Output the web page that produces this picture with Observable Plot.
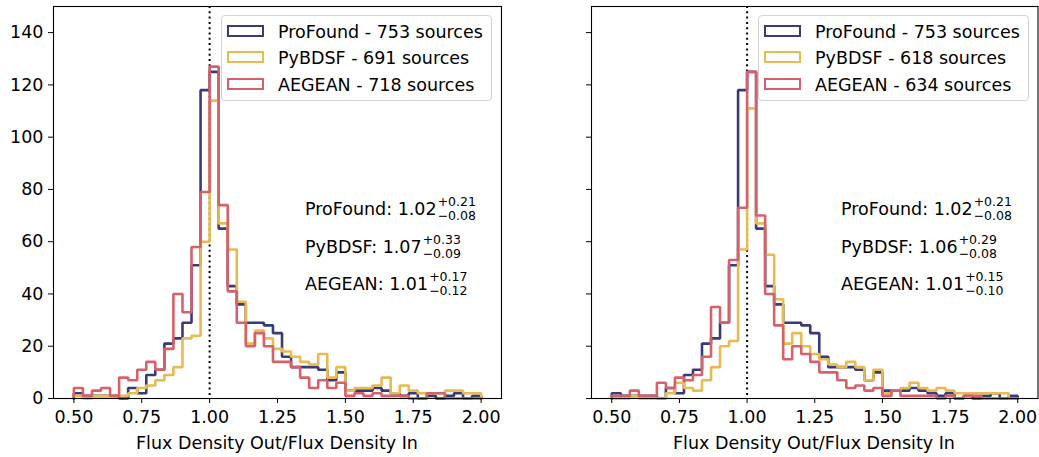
<!DOCTYPE html>
<html>
<head>
<meta charset="utf-8">
<script src="https://cdn.jsdelivr.net/npm/d3@7"></script>
<script src="https://cdn.jsdelivr.net/npm/@observablehq/plot@0.6"></script>
<style>
  html, body { margin: 0; padding: 0; background: #fff; }
  body { width: 1039px; height: 457px; position: relative; overflow: hidden; font-family: "DejaVu Sans", sans-serif; color: #000; }
  .panel { position: absolute; top: 0; }
  .xlabel { position: absolute; font-size: 17.5px; white-space: nowrap; transform: translate(-50%, -50%); }
  .legend { position: absolute; border: 1px solid #d4d4d4; border-radius: 4px; background: rgba(255,255,255,0.8); box-sizing: border-box; }
  .swatch { position: absolute; box-sizing: content-box; }
  .legtext { position: absolute; white-space: nowrap; transform: translateY(-50%); font-size: 17.5px; }
  .annot { position: absolute; font-size: 17.5px; white-space: nowrap; display: flex; align-items: center; }
  .supsub { display: inline-flex; flex-direction: column; font-size: 12.5px; line-height: 14px; margin-left: 1px; }
</style>
</head>
<body>
<script>
// ---- data ----
const binStart = 0.5;
const binWidth = 1 / 30;
const nBins = 45;
const xTicks = [0.5, 0.75, 1.0, 1.25, 1.5, 1.75, 2.0];
const yTicks = [0, 20, 40, 60, 80, 100, 120, 140];
const seriesNames = ["ProFound", "PyBDSF", "AEGEAN"];
const seriesColors = ["#393b79", "#e7ba52", "#d6616b"];

const leftProFound = [2,1,1,1,1, 0,4,2,9,11, 21,23,29,51,118, 125,65,43,36,29, 29,28,25,16,12, 12,12,11,7,10, 3,3,3,4,3, 2,1,2,0,1, 0,1,2,0,1];
const leftPyBDSF   = [1,0,1,1,1, 1,2,4,5,7, 9,12,23,24,60, 114,67,57,37,21, 26,23,19,18,16, 14,13,17,8,12, 3,4,4,5,8, 2,5,3,2,2, 2,3,3,2,2];
const leftAEGEAN   = [4,1,3,4,1, 8,7,11,14,11, 19,40,33,58,79, 127,74,41,29,20, 25,20,14,14,12, 8,4,7,4,6, 1,2,1,2,1, 1,1,0,0,2, 2,0,0,0,0];

const rightProFound = leftProFound;
const rightPyBDSF   = [0,0,1,0,0, 0,2,6,4,3, 7,12,20,22,57, 111,67,55,38,21, 25,20,17,15,13, 12,14,12,7,11, 2,3,4,6,4, 3,4,3,2,2, 2,2,2,2,0];
const rightAEGEAN   = [1,1,3,1,1, 6,4,8,7,9, 16,35,29,53,73, 125,70,40,28,15, 20,17,14,10,10, 7,4,5,3,4, 1,3,1,1,1, 1,0,1,0,1, 1,0,0,0,0];

const leftLegend  = ["ProFound - 753 sources", "PyBDSF - 691 sources", "AEGEAN - 718 sources"];
const rightLegend = ["ProFound - 753 sources", "PyBDSF - 618 sources", "AEGEAN - 634 sources"];
const leftStats  = [["ProFound: 1.02", "+0.21", "\u22120.08"], ["PyBDSF: 1.07", "+0.33", "\u22120.09"], ["AEGEAN: 1.01", "+0.17", "\u22120.12"]];
const rightStats = [["ProFound: 1.02", "+0.21", "\u22120.08"], ["PyBDSF: 1.06", "+0.29", "\u22120.08"], ["AEGEAN: 1.01", "+0.15", "\u22120.10"]];
const xLabel = "Flux Density Out/Flux Density In";

// build step outlines (matplotlib histtype="step")
function stepPoints(name, counts) {
  const pts = [{s: name, x: binStart, y: 0}];
  for (let i = 0; i < nBins; i++) pts.push({s: name, x: binStart + i * binWidth, y: counts[i]});
  pts.push({s: name, x: binStart + nBins * binWidth, y: 0});
  return pts;
}

function makePanel(cfg) {
  const data = cfg.series.flatMap((c, k) => stepPoints(seriesNames[k], c));
  const marks = [
    Plot.ruleX([1.0], {stroke: "black", strokeWidth: 2, strokeDasharray: "2,3.3"}),
    ...seriesNames.map((n, k) => Plot.line(data.filter(d => d.s === n), {
      x: "x", y: "y", curve: "step-after", stroke: seriesColors[k], strokeWidth: 2.6, strokeLinejoin: "miter"
    })),
    Plot.axisX({ticks: xTicks, tickSize: 5, tickPadding: 7, tickFormat: d3.format(".2f"), label: null, fontSize: 17.5}),
    cfg.yLabels
      ? Plot.axisY({ticks: yTicks, tickSize: 5, tickPadding: 5, label: null, fontSize: 17.5})
      : Plot.axisY({ticks: yTicks, tickSize: 5, tickPadding: 5, label: null, tickFormat: () => ""}),
    Plot.frame({stroke: "black", strokeWidth: 1.1})
  ];
  const svg = Plot.plot({
    width: cfg.width, height: 457,
    marginLeft: cfg.ml, marginRight: cfg.mr, marginTop: 6, marginBottom: 59,
    x: {domain: [0.425, 2.075]},
    y: {domain: [0, 150]},
    style: {fontFamily: "DejaVu Sans", fontSize: "17.5px", color: "black", background: "transparent"},
    marks
  });
  const wrap = document.createElement("div");
  wrap.className = "panel";
  wrap.style.left = cfg.left + "px";
  wrap.appendChild(svg);
  document.body.appendChild(wrap);

  // x label
  const xl = document.createElement("div");
  xl.className = "xlabel";
  xl.textContent = xLabel;
  xl.style.left = cfg.xlabelX + "px";
  xl.style.top = "443px";
  document.body.appendChild(xl);

  // legend
  const lg = document.createElement("div");
  lg.className = "legend";
  lg.style.left = cfg.legX + "px";
  lg.style.top = "15px";
  lg.style.width = "271px";
  lg.style.height = "86px";
  document.body.appendChild(lg);
  cfg.legend.forEach((t, k) => {
    const cy = 15 + 26.7 * k;
    const sw = document.createElement("div");
    sw.className = "swatch";
    sw.style.left = "5px";
    sw.style.top = (cy - 6.3) + "px";
    sw.style.border = "2.6px solid " + seriesColors[k];
    sw.style.width = "33px";
    sw.style.height = "8px";
    lg.appendChild(sw);
    const tx = document.createElement("div");
    tx.className = "legtext";
    tx.style.left = "56px";
    tx.style.top = (cy + 0.5) + "px";
    tx.textContent = t;
    lg.appendChild(tx);
  });

  // stats annotations
  cfg.stats.forEach((s, k) => {
    const a = document.createElement("div");
    a.className = "annot";
    a.style.left = cfg.annX + "px";
    a.style.top = (195 + 37.5 * k) + "px";
    const main = document.createElement("span");
    main.textContent = s[0];
    const ss = document.createElement("span");
    ss.className = "supsub";
    const sup = document.createElement("span"); sup.textContent = s[1];
    const sub = document.createElement("span"); sub.textContent = s[2];
    ss.appendChild(sup); ss.appendChild(sub);
    a.appendChild(main); a.appendChild(ss);
    document.body.appendChild(a);
  });
}

makePanel({left: 0, width: 520, ml: 53, mr: 19, yLabels: true,
  series: [leftProFound, leftPyBDSF, leftAEGEAN], legend: leftLegend, stats: leftStats,
  legX: 221, annX: 305, xlabelX: 277});
makePanel({left: 520, width: 519, ml: 71, mr: 1.5, yLabels: false,
  series: [rightProFound, rightPyBDSF, rightAEGEAN], legend: rightLegend, stats: rightStats,
  legX: 758, annX: 841, xlabelX: 814});
</script>
</body>
</html>
